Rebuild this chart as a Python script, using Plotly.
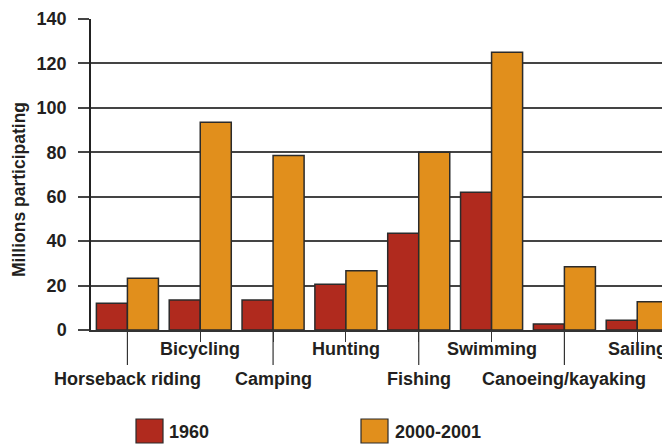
import plotly.graph_objects as go

categories = ["Horseback riding", "Bicycling", "Camping", "Hunting",
              "Fishing", "Swimming", "Canoeing/kayaking", "Sailing"]
series_names = ["1960", "2000-2001"]
v1960 = [12, 13.5, 13.5, 20.6, 43.5, 62, 2.7, 4.4]
v2000 = [23.3, 93.5, 78.5, 26.7, 80, 125, 28.5, 12.7]
y_ticks = [0, 20, 40, 60, 80, 100, 120, 140]
y_title = "Millions participating"

colors = ["#B02A1E", "#E18F1C"]
txt = "#231f20"
FONT = "Liberation Sans, Arial, sans-serif"

# page body has an 8px default margin; work in window pixels and offset
OFF = 8
W, H = 670 - OFF, 444 - OFF
plot_left, plot_right, plot_top, plot_bottom = 91, 670, 19, 330
ml, mr = plot_left - OFF, 0
mt, mb = plot_top - OFF, H - (plot_bottom - OFF)
pw, ph = W - ml - mr, H - mt - mb

def px_x(px):
    return (px - plot_left) / pw

def px_y(py):
    return (plot_bottom - py) / ph

fig = go.Figure()
for name, vals, col in zip(series_names, [v1960, v2000], colors):
    fig.add_trace(go.Bar(
        x=list(range(len(categories))), y=vals, name=name,
        marker=dict(color=col, line=dict(color="#2b2b2b", width=1.5)),
        showlegend=False,
    ))

fig.update_layout(
    width=W, height=H,
    margin=dict(l=ml, r=mr, t=mt, b=mb),
    plot_bgcolor="white", paper_bgcolor="white",
    barmode="group", bargap=0.148, bargroupgap=0,
    font=dict(family=FONT, size=18, color=txt, weight="bold"),
)

fig.update_xaxes(
    range=[-0.5, 7.45], tickvals=list(range(len(categories))),
    showticklabels=False, ticks="outside", ticklen=10, tickwidth=1.2,
    tickcolor="#333", showline=True, linecolor="#333", linewidth=1.5,
    showgrid=False, zeroline=False,
)
fig.update_yaxes(
    range=[0, 140], tickvals=y_ticks, ticks="outside", ticklen=11,
    tickwidth=1.5, tickcolor="#444", showgrid=True, gridcolor="#444",
    gridwidth=1.5, showline=True, linecolor="#222", linewidth=1.5,
    zeroline=False, ticklabelstandoff=8,
    tickfont=dict(family=FONT, size=18, color=txt, weight="bold"),
)

# category labels in two staggered rows, with long ticks for the lower row
for i, c in enumerate(categories):
    lower = (i % 2 == 0)
    fig.add_annotation(
        x=i, xref="x", y=px_y(379 if lower else 349), yref="paper",
        text=c, showarrow=False, xanchor="center", yanchor="middle",
        font=dict(family=FONT, size=18, color=txt, weight="bold"),
    )
    if lower:
        fig.add_shape(type="line", xref="x", yref="paper",
                      x0=i, x1=i, y0=0, y1=px_y(365),
                      line=dict(color="#333", width=1.2))

# y-axis title
fig.add_annotation(
    x=0, xref="paper", xshift=-(plot_left - 19), y=px_y(190), yref="paper",
    text=y_title, textangle=-90, showarrow=False, borderpad=0,
    xanchor="center", yanchor="middle",
    font=dict(family=FONT, size=17.5, color=txt, weight="bold"),
)

# legend
leg = [(136, 163, 167), (361, 388, 393)]
for (x0, x1, tx), name, col in zip(leg, series_names, colors):
    fig.add_shape(type="rect", xref="paper", yref="paper",
                  x0=px_x(x0), x1=px_x(x1), y0=px_y(419), y1=px_y(443),
                  fillcolor=col, line=dict(color="#2b2b2b", width=1.2))
    fig.add_annotation(
        x=px_x(tx), xref="paper", y=px_y(432), yref="paper",
        text=name, showarrow=False, xanchor="left", yanchor="middle",
        font=dict(family=FONT, size=18, color=txt, weight="bold"),
    )

fig.write_html("out.html")
